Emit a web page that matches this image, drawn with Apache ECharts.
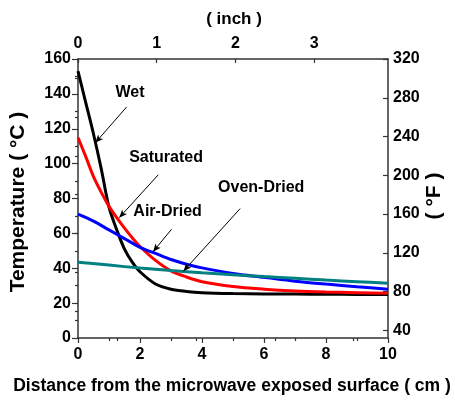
<!DOCTYPE html>
<html>
<head>
<meta charset="utf-8" />
<script src="https://cdn.jsdelivr.net/npm/echarts@6/dist/echarts.min.js"></script>
<style>
  html, body { margin: 0; padding: 0; background: #fff; }
  #chart { width: 455px; height: 400px; }
</style>
</head>
<body>
<div id="chart"></div>
<script>
// distance (cm) and temperature (°C)
var xWet = [0, 0.25, 0.5, 0.75, 1, 1.25, 1.5, 1.75, 2, 2.5, 3, 3.5, 4, 5, 6, 7, 8, 9, 10];
var wet = [153, 135, 117, 97, 75, 62, 51, 43.5, 38, 31, 28, 26.7, 26, 25.5, 25.3, 25.2, 25.1, 25, 25];
var saturated = [115, 104, 92.5, 83.5, 75.5, 69, 63, 57.5, 52.5, 44.5, 38.5, 35, 32.3, 29.5, 28, 27, 26.4, 26, 25.6];
var xAir = [0, 0.5, 1, 1.5, 2, 2.5, 3, 3.5, 4, 5, 6, 7, 8, 9, 10];
var airDried = [71, 67, 62, 57, 52, 48.5, 45, 42.3, 40.2, 37, 34.8, 32.6, 30.9, 29.4, 28];
var xOven = [0, 1, 2, 3, 4, 5, 6, 7, 8, 9, 10];
var ovenDried = [43.5, 41.8, 40.1, 38.7, 37.4, 36.3, 35.2, 34.2, 33.2, 32.3, 31.4];

var inchLabels = [0, 1, 2, 3];
var inchMinor = [0.5, 1.5, 2.5, 3.5];
var fLabels = [40, 80, 120, 160, 200, 240, 280, 320];
var fMinor = [60, 100, 140, 180, 220, 260, 300];

// label text + where it sits, arrow from/to (data units)
var notes = [
  { text: 'Wet', at: [1.68, 140.5], from: [1.57, 132.5], to: [0.56, 112] },
  { text: 'Saturated', at: [2.84, 103.3], from: [2.59, 93.6], to: [1.33, 69] },
  { text: 'Air-Dried', at: [2.89, 72.5], from: [3.02, 62.4], to: [2.42, 49.5] },
  { text: 'Oven-Dried', at: [5.91, 86.4], from: [5.23, 74.2], to: [3.40, 38.3] }
];

function pairs(xs, ys) {
  return xs.map(function (x, i) { return [x, ys[i]]; });
}

var FONT = '"Liberation Sans", Arial, sans-serif';
var AX = '#333';
var TICKFONT = { color: '#000', fontSize: 16, fontWeight: 'bold', fontFamily: FONT };

var myChart = echarts.init(document.getElementById('chart'));
myChart.setOption({
  animation: false,
  grid: { left: 78, right: 67, top: 59, bottom: 62 },
  xAxis: [
    {
      type: 'value', position: 'bottom', min: 0, max: 10, interval: 2,
      axisLine: { onZero: false, lineStyle: { color: AX, width: 1.5 } },
      axisTick: { inside: false, length: 5, lineStyle: { color: AX, width: 1.2 } },
      minorTick: { show: true, splitNumber: 2, length: 3, lineStyle: { color: AX, width: 1.2 } },
      axisLabel: Object.assign({ margin: 9 }, TICKFONT),
      splitLine: { show: false }
    },
    {
      type: 'value', position: 'top', min: 0, max: 10 / 2.54,
      axisLine: { onZero: false, lineStyle: { color: AX, width: 1.5 } },
      axisTick: { inside: true, length: 4, customValues: inchLabels, lineStyle: { color: AX, width: 1.2 } },
      axisLabel: Object.assign({ margin: 7, customValues: inchLabels }, TICKFONT),
      splitLine: { show: false }
    },
    {
      type: 'value', position: 'top', min: 0, max: 10 / 2.54,
      axisLine: { show: false },
      axisTick: { inside: true, length: 3, customValues: inchMinor, lineStyle: { color: AX, width: 1.2 } },
      axisLabel: { show: false },
      splitLine: { show: false }
    }
  ],
  yAxis: [
    {
      type: 'value', position: 'left', min: 0, max: 160, interval: 20,
      axisLine: { show: true, onZero: false, lineStyle: { color: AX, width: 1.5 } },
      axisTick: { show: true, inside: false, length: 6, lineStyle: { color: AX, width: 1.2 } },
      minorTick: { show: true, splitNumber: 2, length: 3, lineStyle: { color: AX, width: 1.2 } },
      axisLabel: Object.assign({ margin: 7 }, TICKFONT),
      splitLine: { show: false }
    },
    {
      type: 'value', position: 'right', min: 32, max: 320,
      axisLine: { show: true, onZero: false, lineStyle: { color: AX, width: 1.5 } },
      axisTick: { show: true, inside: true, length: 5, customValues: fLabels, lineStyle: { color: AX, width: 1.2 } },
      axisLabel: Object.assign({ margin: 5, customValues: fLabels }, TICKFONT),
      splitLine: { show: false }
    },
    {
      type: 'value', position: 'right', min: 32, max: 320,
      axisLine: { show: false },
      axisTick: { show: true, inside: true, length: 3, customValues: fMinor, lineStyle: { color: AX, width: 1.2 } },
      axisLabel: { show: false },
      splitLine: { show: false }
    }
  ],
  graphic: [
    { type: 'text', x: 234, y: 19, style: { text: '( inch )', font: 'bold 17px ' + FONT, fill: '#000', align: 'center', verticalAlign: 'middle' } },
    { type: 'text', x: 232, y: 386, style: { text: 'Distance from the microwave exposed surface ( cm )', font: 'bold 17.5px ' + FONT, fill: '#000', align: 'center', verticalAlign: 'middle' } },
    { type: 'text', x: 18, y: 202, rotation: Math.PI / 2, style: { text: 'Temperature ( °C )', font: 'bold 21px ' + FONT, fill: '#000', align: 'center', verticalAlign: 'middle' } },
    { type: 'text', x: 434, y: 196, rotation: Math.PI / 2, style: { text: '( °F )', font: 'bold 21px ' + FONT, fill: '#000', align: 'center', verticalAlign: 'middle' } }
  ],
  series: [
    { name: 'Wet', type: 'line', smooth: 0.3, showSymbol: false, data: pairs(xWet, wet),
      lineStyle: { color: '#000', width: 3 } },
    { name: 'Saturated', type: 'line', smooth: 0.3, showSymbol: false, data: pairs(xWet, saturated),
      lineStyle: { color: '#ff0000', width: 3 } },
    { name: 'Air-Dried', type: 'line', smooth: 0.3, showSymbol: false, data: pairs(xAir, airDried),
      lineStyle: { color: '#0000ff', width: 3 } },
    { name: 'Oven-Dried', type: 'line', smooth: 0.3, showSymbol: false, data: pairs(xOven, ovenDried),
      lineStyle: { color: '#008080', width: 3 } },
    {
      name: 'notes', type: 'line', data: [], silent: true,
      markLine: {
        silent: true, symbol: ['none', 'arrow'], symbolSize: [5, 8],
        lineStyle: { color: '#000', width: 1, type: 'solid' },
        label: { show: false },
        data: notes.map(function (n) { return [{ coord: n.from }, { coord: n.to }]; })
      },
      markPoint: {
        silent: true, symbol: 'circle', symbolSize: 1,
        itemStyle: { color: 'rgba(0,0,0,0)' },
        label: { show: true, position: 'inside', color: '#000', fontSize: 16, fontWeight: 'bold', fontFamily: FONT,
          formatter: function (p) { return p.name; } },
        data: notes.map(function (n) { return { name: n.text, coord: n.at }; })
      }
    }
  ]
});
</script>
</body>
</html>
